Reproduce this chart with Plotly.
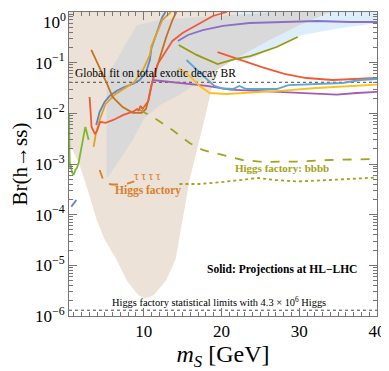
import math
import plotly.graph_objects as go

# shaded regions (x in GeV, y = branching ratio)
beige_x = [0.4, 22.3, 21.3, 19.4, 17.8, 15.9, 15.0, 14.1, 12.9, 11.3, 10.2, 9.3, 7.8, 6.5, 5.0, 3.95, 2.8, 1.76, 0.86, 0.4]
beige_y = [1, 1, 0.28, 0.082, 0.0074, 4.8e-4, 7.9e-5, 1.3e-5, 5.1e-6, 2.6e-6, 2.2e-6, 2.6e-6, 5.1e-6, 1.3e-5, 3.2e-5, 7.9e-5, 3.1e-4, 9.6e-4, 1.9e-3, 2.3e-3]
lblue_x = [22.0, 24.3, 27.5, 30.4, 35.2, 40, 40, 22.0]
lblue_y = [0.1, 0.13, 0.223, 0.35, 0.48, 0.6, 1, 1]
gray_x = [5.24, 5.24, 9.1, 12.1, 17.2, 23.6, 26.9, 34.0, 30.0, 26.2, 23.6, 21.1, 17.8, 14.6, 12.1, 10.1, 8.6, 6.9, 5.37]
gray_y = [5.3e-4, 0.052, 0.55, 0.7, 0.8, 0.91, 1, 1, 0.55, 0.28, 0.17, 0.103, 0.05, 0.023, 0.0146, 0.0081, 0.003, 0.0012, 5.5e-4]

# HL-LHC projections
blue_x = [3.9, 4.33, 4.97, 5.6, 6.5, 7.5, 8.6, 9.5, 10.3, 10.8, 11.0, 11.8, 12.4, 12.8]
blue_y = [0.0059, 0.0106, 0.0167, 0.0219, 0.0276, 0.0331, 0.0379, 0.0455, 0.065, 0.113, 0.195, 0.44, 0.8, 1.0]
orange_x = [3.57, 3.82, 4.33, 5.1, 6.4, 7.8, 8.8, 9.9, 10.8, 11.0, 11.5, 12.4, 13.5]
orange_y = [0.00217, 0.00374, 0.0074, 0.0153, 0.0241, 0.0331, 0.0416, 0.0716, 0.142, 0.213, 0.336, 0.695, 1.0]
brown_x = [3.27, 4.34, 5.24, 6.0, 7.3, 8.6, 9.75, 10.3, 10.6, 11.0, 11.6, 12.2, 12.9, 13.7, 14.2]
brown_y = [0.178, 0.082, 0.0397, 0.021, 0.0133, 0.0102, 0.0102, 0.0122, 0.0183, 0.0363, 0.0716, 0.142, 0.321, 0.695, 1.0]
red_x = [3.05, 3.3, 3.75, 4.0, 4.42, 5.1, 6.1, 7.4, 8.7, 9.15, 9.35, 9.6, 9.86, 10.2, 10.6, 10.9, 11.3, 11.8, 12.6, 13.7, 15.0, 16.8, 18.9, 20.7]
red_y = [0.021, 0.0054, 0.0039, 0.0045, 0.0068, 0.0065, 0.0074, 0.0093, 0.0109, 0.0122, 0.0111, 0.014, 0.0122, 0.0146, 0.0175, 0.0289, 0.057, 0.094, 0.148, 0.268, 0.385, 0.554, 0.834, 1.0]
red2_x = [19.5, 22.4, 25.2, 28.1, 30.9, 34.3, 37.8, 40]
red2_y = [0.162, 0.113, 0.082, 0.06, 0.0498, 0.0455, 0.0476, 0.0498]
purple_x = [14.4, 15.7, 17.6, 20.2, 23.6, 27.9, 32.3, 36.5, 40]
purple_y = [0.268, 0.352, 0.44, 0.53, 0.607, 0.635, 0.664, 0.635, 0.635]
magenta_x = [11.1, 14.6, 18.1, 21.1, 24.9, 27.9, 31.3, 34.8, 37.4, 40]
magenta_y = [0.0455, 0.0397, 0.0347, 0.0293, 0.0276, 0.0264, 0.0252, 0.0233, 0.0252, 0.0264]
olive_x = [14.5, 16.8, 19.5, 21.7, 23.7, 27.1, 29.8]
olive_y = [0.223, 0.142, 0.094, 0.118, 0.135, 0.204, 0.321]
cyan_x = [15.5, 16.8, 18.1, 19.1, 20.2, 21.5, 22.3, 23.2, 24.5, 27.1, 28.6, 32.2, 35.6, 37.8, 40]
cyan_y = [0.113, 0.0716, 0.0476, 0.0347, 0.0309, 0.0302, 0.0347, 0.0302, 0.0302, 0.0302, 0.0362, 0.0379, 0.0397, 0.0455, 0.0476]
gold_x = [14.5, 15.9, 17.2, 18.5, 20.7, 23.3, 24.9, 27.9, 32.2, 36.5, 40]
gold_y = [0.0785, 0.0546, 0.0347, 0.0252, 0.0241, 0.0252, 0.026, 0.028, 0.0316, 0.0342, 0.0367]
green_x = [0.39, 0.41, 0.48, 0.54, 0.6, 0.77, 0.99, 1.21, 1.41, 1.63, 1.85, 2.06, 2.28, 2.5, 2.7, 2.92]
green_y = [0.0102, 0.003, 0.0012, 8.3e-4, 1.0e-3, 6.95e-4, 6.07e-4, 7.6e-4, 8.3e-4, 1.05e-3, 1.65e-3, 2.6e-3, 4.1e-3, 5.4e-3, 4.1e-3, 3.0e-3]
blue_low_x = [0.7, 1.34]
blue_low_y = [1.44e-4, 1.95e-4]

# Higgs factory projections
tau_x = [4.34, 4.76, 5.1, 5.9, 6.9, 7.9, 8.8]
tau_y = [7.6e-4, 5.06e-4, 4.2e-4, 3.94e-4, 3.94e-4, 4.12e-4, 4.52e-4]
bbbb_x = [9.5, 11.4, 13.7, 15.9, 17.6, 20.2, 22.7, 25.3, 29.7, 33.9, 40]
bbbb_y = [0.01164, 0.0081, 0.00469, 0.0026, 0.00189, 0.0015, 0.0012, 0.0011, 0.00112, 0.0012, 0.00126]
bbbb2_x = [14.6, 17.2, 20.2, 22.3, 24.7, 26.9, 29.7, 33.9, 40]
bbbb2_y = [4.03e-4, 4.03e-4, 4.42e-4, 4.83e-4, 5.3e-4, 4.83e-4, 4.52e-4, 4.83e-4, 5.42e-4]

global_fit = 0.041
stat_limit = 1.3e-6

ytick_vals = [1, 0.1, 0.01, 1e-3, 1e-4, 1e-5, 1e-6]
ytick_text = ['', '10<sup>\u22121</sup>', '10<sup>\u22122</sup>', '10<sup>\u22123</sup>',
              '10<sup>\u22124</sup>', '10<sup>\u22125</sup>', '10<sup>\u22126</sup>']
top_label = '10<sup>0</sup>'
xtick_vals = [10, 20, 30, 40]

SERIF = 'Liberation Serif'

fig = go.Figure()

def region(x, y, color):
    fig.add_trace(go.Scatter(x=x, y=y, fill='toself', fillcolor=color, mode='none',
                             hoverinfo='skip', showlegend=False))

def line(x, y, color, width=1.8, dash='solid'):
    fig.add_trace(go.Scatter(x=x, y=y, mode='lines', showlegend=False,
                             line=dict(color=color, width=width, dash=dash)))

region(beige_x, beige_y, '#ede2d7')
region(lblue_x, lblue_y, '#ddeefb')
region(gray_x, gray_y, '#d9d9d9')

line([0.4, 40], [global_fit] * 2, '#333333', width=0.9, dash='dot')
line([0.4, 40], [stat_limit] * 2, '#333333', width=0.9, dash='dot')

line(blue_x, blue_y, '#5b86c6')
line(orange_x, orange_y, '#e5a024')
line(brown_x, brown_y, '#c6711d')
line(red_x, red_y, '#ee5b36')
line(red2_x, red2_y, '#ee5b36')
line(purple_x, purple_y, '#8a70c6')
line(magenta_x, magenta_y, '#a25db0')
line(olive_x, olive_y, '#999910')
line(cyan_x, cyan_y, '#5ca7d4')
line(gold_x, gold_y, '#fdbf1c')
line(green_x, green_y, '#7db830')
line(blue_low_x, blue_low_y, '#5b86c6')

line(tau_x, tau_y, '#d5802b', width=1.8, dash='dash')
line(bbbb_x, bbbb_y, '#a3a320', width=1.8, dash='dash')
line(bbbb2_x, bbbb2_y, '#a3a320', width=1.8, dash='dot')

def label(x, y, text, color='black', size=11, xanchor='center'):
    fig.add_annotation(x=x, y=math.log10(y), text=text, showarrow=False, xanchor=xanchor,
                       font=dict(family=SERIF, size=size, color=color))

label(0.9, 0.06, 'Global fit on total exotic decay BR', xanchor='left', size=11.5)
label(10.5, 5.8e-4, '\u03c4\u2009\u03c4\u2009\u03c4\u2009\u03c4', color='#d5802b', size=12)
label(10.5, 2.95e-4, '<b>Higgs factory</b>', color='#d5802b', size=11.5)
label(27.8, 8.3e-4, '<b>Higgs factory: bbbb</b>', color='#a3a320', size=11)
label(27.8, 8.1e-6, '<b>Solid: Projections at HL\u2212LHC</b>', size=11.5)
label(19.7, 1.9e-6, 'Higgs factory statistical limits with 4.3 \u00d7 10<sup>6</sup> Higgs', size=10.4)

# top tick label drawn as annotation so it is not clipped at the page edge
fig.add_annotation(xref='paper', yref='paper', x=0, y=1, xanchor='right', yanchor='top',
                   xshift=-1, yshift=4, text=top_label, showarrow=False,
                   font=dict(family=SERIF, size=17, color='black'))

minor_y = [m * 10 ** k for k in range(-6, 0) for m in range(2, 10)]

axis_common = dict(showgrid=False, zeroline=False, showline=True, linecolor='#777777',
                   linewidth=1, mirror='allticks', ticks='inside', tickcolor='#777777',
                   ticklen=8, automargin=False, ticklabeloverflow='allow',
                   tickfont=dict(family=SERIF, size=17, color='black'))

# page has an 8px body margin, so the figure is 8px smaller than the window
fig.update_layout(
    width=381, height=363,
    margin=dict(l=61, r=12, t=4, b=55),
    plot_bgcolor='white', paper_bgcolor='white',
    xaxis=dict(range=[0.4, 40], tickvals=xtick_vals,
               minor=dict(dtick=1, ticks='inside', ticklen=4, tickcolor='#777777'),
               title=dict(text='<i>m</i><sub><i>S</i></sub> [GeV]', standoff=2,
                          font=dict(family=SERIF, size=24, color='black')),
               **axis_common),
    yaxis=dict(type='log', range=[-6, 0], tickvals=ytick_vals, ticktext=ytick_text,
               minor=dict(tickvals=minor_y, ticks='inside', ticklen=4, tickcolor='#777777'),
               title=dict(text='Br(h\u2192ss)', standoff=2,
                          font=dict(family=SERIF, size=21, color='black')),
               **axis_common),
)

fig.write_html('out.html')
